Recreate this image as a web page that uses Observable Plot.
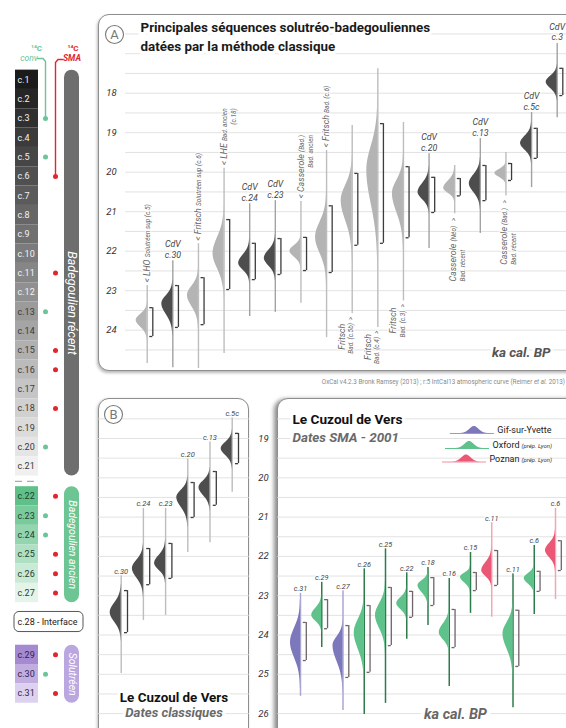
<!DOCTYPE html>
<html lang="fr">
<head>
<meta charset="utf-8">
<script src="https://cdn.jsdelivr.net/npm/d3@7"></script>
<script src="https://cdn.jsdelivr.net/npm/@observablehq/plot@0.6"></script>
<style>
html,body{margin:0;padding:0;background:#fff;}
#root{position:relative;width:566px;height:728px;overflow:hidden;background:#fff;font-family:Roboto,"Noto Sans",sans-serif;}
#root svg{position:absolute;overflow:visible;}
.frame{position:absolute;box-sizing:border-box;border:1.5px solid #8e8e8e;border-radius:11px;background:#fff;}
.cap{position:absolute;right:1px;top:378px;font-size:6.3px;color:#8a8a8a;white-space:nowrap;font-family:Roboto,sans-serif;}
</style>
</head>
<body>
<div id="root"></div>
<script>
// ---------------- DATA ----------------
// Left column: stratigraphic layers
const layers = d3.range(1, 32).map(n => "c." + n);
const layerGroup = layers.map((_, i) => i < 21 ? "recent" : i < 27 ? "ancien" : i === 27 ? "interface" : "solutreen");
const convLayers = ["c.3", "c.5", "c.13", "c.20", "c.23", "c.24", "c.30"];
const smaLayers = ["c.6", "c.11", "c.15", "c.16", "c.18", "c.22", "c.25", "c.26", "c.27", "c.29", "c.31"];
const periodKeys = ["recent", "ancien", "solutreen"];
const periodNames = ["Badegoulien récent", "Badegoulien ancien", "Solutréen"];

// Panel A: classic dates (ka cal BP)
const aTicks = [18, 19, 20, 21, 22, 23, 24];
const aTone = ["light","dark","light","light","dark","dark","light","light","light","light","light","dark","light","dark","light","dark","dark"];
const aMode   = [23.75,23.33,23.12,22.06,22.31,22.18,22.00,21.65,20.72,19.95,20.54,20.51,20.41,20.29,20.03,19.27,17.72];
const aSdUp   = [0.15,0.20,0.23,0.40,0.21,0.20,0.14,0.38,0.38,0.60,0.33,0.22,0.18,0.22,0.10,0.18,0.15];
const aSdDown = [0.17,0.27,0.28,0.38,0.17,0.19,0.15,0.40,0.50,0.85,0.48,0.18,0.12,0.22,0.10,0.17,0.16];
const aLo     = [23.43,22.87,22.67,21.20,21.80,21.68,21.65,20.85,20.03,18.77,19.86,20.13,20.16,19.83,19.78,18.89,17.37];
const aHi     = [24.16,23.93,23.86,22.97,22.72,22.59,22.49,22.54,21.85,21.80,21.66,21.02,20.60,20.72,20.21,19.65,18.06];
const aTop    = [22.87,22.24,21.81,19.90,20.80,20.72,20.74,19.45,18.82,17.38,18.74,19.53,19.83,19.15,19.50,18.49,16.74];
const aBottom = [24.84,24.95,24.97,24.59,23.65,23.55,23.32,24.19,23.58,23.93,23.26,21.93,21.05,21.55,20.60,20.39,18.62];
const aLabelKind = ["top","cdv","top","top","cdv","cdv","top","top","bottomF","bottomF","bottomF","cdv","bottomC","cdv","bottomC","cdv","cdv"];
const aLabelName = ["< LHO","CdV","< Fritsch","< LHE","CdV","CdV","< Casserole","< Fritsch","Fritsch","Fritsch","Fritsch","CdV","Casserole","CdV","Casserole","CdV","CdV"];
const aLabelDetail = ["Solutréen sup (c.5)","c.30","Solutréen sup (c.6)","Bad. ancien","c.24","c.23","(Bad.)","Bad. (c.6)","Bad. (c.5b)  >","Bad. (c.4)  >","Bad. (c.3)  >","c.20","(Néo)   >","c.13","(Bad.)   >","c.5c","c.3"];
const aLabelLine2 = ["","","","(c.18)","","","Bad. ancien","","","","","","Bad. récent","","Bad. récent","",""];

// Panel B: Le Cuzoul de Vers, classic dates
const bTicks = [19, 20, 21, 22, 23, 24, 25, 26];
const bLayer  = ["c.30","c.24","c.23","c.20","c.13","c.5c"];
const bMode   = [23.43,22.31,22.18,20.50,20.25,19.26];
const bSdUp   = [0.24,0.21,0.20,0.18,0.17,0.16];
const bSdDown = [0.24,0.24,0.17,0.25,0.20,0.17];
const bLo     = [22.87,21.80,21.67,20.12,19.84,18.87];
const bHi     = [23.94,22.72,22.56,21.01,20.70,19.64];
const bTop    = [22.49,20.78,20.78,19.51,19.08,18.47];
const bBottom = [24.98,23.63,23.50,21.90,21.65,20.37];

// Panel C: Le Cuzoul de Vers, AMS dates 2001
const cLayer  = ["c.31","c.29","c.27","c.26","c.25","c.22","c.18","c.16","c.15","c.11","c.11","c.6","c.6"];
const cLab    = ["Gif","Oxford","Gif","Oxford","Oxford","Oxford","Oxford","Oxford","Oxford","Poznan","Oxford","Oxford","Poznan"];
const cMode   = [24.19,23.50,24.27,23.94,23.50,23.20,22.74,23.94,22.53,22.36,23.97,22.56,21.85];
const cSdUp   = [0.36,0.18,0.22,0.33,0.29,0.15,0.12,0.22,0.10,0.20,0.28,0.12,0.18];
const cSdDown = [0.39,0.15,0.40,0.42,0.33,0.15,0.18,0.18,0.14,0.15,0.38,0.14,0.18];
const cLo     = [23.68,23.10,23.76,23.25,22.79,22.89,22.54,23.35,22.41,21.85,23.37,22.38,21.60];
const cHi     = [24.65,23.84,25.08,24.95,24.27,23.55,23.25,24.32,22.87,22.74,24.80,22.89,22.36];
const cTop    = [22.94,22.66,22.87,22.31,21.80,22.41,22.28,22.56,21.90,21.14,22.44,21.72,20.78];
const cBottom = [25.56,24.32,25.92,26.02,25.74,24.11,23.76,25.31,23.45,23.55,25.85,23.48,23.10];
const labKeys   = ["Gif","Oxford","Poznan"];
const labName   = ["Gif-sur-Yvette","Oxford","Poznan"];
const labDetail = ["","(prép. Lyon)","(prép. Lyon)"];

// ---------------- STYLE ----------------
const FONT = "Roboto";
const labFill = {Gif:"#7c78bb", Oxford:"#5ec28a", Poznan:"#ea5876"};
const labLine = {Gif:"#a9a6d6", Oxford:"#2e7b4c", Poznan:"#f3a7b6"};
const labLegLine = {Gif:"#9c98cf", Oxford:"#5ec28a", Poznan:"#ef8fa3"};

const cv = document.createElement("canvas").getContext("2d");
function tw(t, size, style = "italic", weight = 400) {
  cv.font = `${style} ${weight} ${size}px ${FONT}`;
  return cv.measureText(t).width;
}
const root = document.getElementById("root");
function frame(l, t, w, h, shadow) {
  const d = document.createElement("div");
  d.className = "frame";
  Object.assign(d.style, {left: l + "px", top: t + "px", width: w + "px", height: h + "px", boxShadow: shadow});
  root.appendChild(d);
}
function put(svg, l, t) { svg.style.left = l + "px"; svg.style.top = t + "px"; root.appendChild(svg); }
const baseStyle = {background: "transparent", fontFamily: FONT, overflow: "visible"};

function mk(modes, su, sd, lo, hi, top, bottom, extra) {
  return modes.map((m, i) => Object.assign({i, mode: m, su: su[i], sd: sd[i], lo: lo[i], hi: hi[i], top: top[i], bottom: bottom[i]}, extra(i)));
}

function distMarks(items, o) {
  const {kx, w, fill, line, bracket, bdx, lineWidth = 1.4} = o;
  const dens = [];
  items.forEach((d, i) => {
    const lo = d.mode - 3 * d.su, hi = d.mode + 3 * d.sd, n = 90;
    for (let k = 0; k <= n; k++) {
      const v = lo + (hi - lo) * k / n;
      const s = v < d.mode ? d.su : d.sd;
      const f = Math.exp(-0.5 * ((v - d.mode) / s) ** 2);
      dens.push({id: i, y: v, x1: i, x2: i - w * f / kx, fill: fill(d)});
    }
  });
  const bx = i => i + bdx / kx, tick = 3 / kx;
  return [
    Plot.ruleX(items, {x: (d, i) => i, y1: "top", y2: "bottom", stroke: line, strokeWidth: lineWidth}),
    Plot.areaX(dens, {y: "y", x1: "x1", x2: "x2", z: "id", fill: "fill"}),
    Plot.ruleX(items, {x: (d, i) => bx(i), y1: "lo", y2: "hi", stroke: bracket, strokeWidth: 1.3}),
    Plot.ruleY(items, {y: "lo", x1: (d, i) => bx(i) - tick, x2: (d, i) => bx(i), stroke: bracket, strokeWidth: 1.3}),
    Plot.ruleY(items, {y: "hi", x1: (d, i) => bx(i) - tick, x2: (d, i) => bx(i), stroke: bracket, strokeWidth: 1.3})
  ];
}
const mid = {textAnchor: "middle", lineAnchor: "middle"};

// ---------------- FRAMES ----------------
frame(98, 14, 520, 357, "-1px 2px 3px rgba(0,0,0,0.28)");
frame(98, 398, 151, 360, "-1px 1px 3px rgba(0,0,0,0.25)");
frame(277, 398, 330, 360, "-3px 1px 4px rgba(0,0,0,0.45)");

// ---------------- LEFT COLUMN ----------------
{
  const off = {recent: 0, ancien: 0.55, interface: 1.05, solutreen: 1.75};
  const L = layers.map((name, i) => ({name, i, group: layerGroup[i], slot: i + 1 + off[layerGroup[i]]}));
  const y0 = 79.3, ky = 19.33;
  const sy = p => 1 + (p - y0) / ky;
  const grayRamp = d3.interpolateRgb("#1b1b1b", "#f0f0f0");
  const greenRamp = d3.interpolateRgb("#5fc189", "#e4f4e9");
  const purpleRamp = d3.interpolateRgb("#a589d1", "#dcd1ee");
  const cellFill = d => d.group === "recent" ? grayRamp(d.i / 20) : d.group === "ancien" ? greenRamp((d.i - 21) / 5) : purpleRamp((d.i - 28) / 2);
  const cellText = d => d.group === "recent" ? (d.i < 12 ? "#f2f2f2" : "#3a3a3a") : d.group === "ancien" ? "#1f4030" : "#2e2550";
  const cells = L.filter(d => d.group !== "interface");
  const inter = L.filter(d => d.group === "interface");
  const periods = periodKeys.map((k, j) => {
    const s = L.filter(d => d.group === k).map(d => d.slot);
    return {key: k, name: periodNames[j], y1: d3.min(s) - 0.5, y2: d3.max(s) + 0.5};
  });
  const periodFill = {recent: "#6e6e6e", ancien: "#6cc593", solutreen: "#bba7df"};
  const conv = L.filter(d => convLayers.includes(d.name));
  const sma = L.filter(d => smaLayers.includes(d.name));
  const c3 = L.find(d => d.name === "c.3").slot, c6 = L.find(d => d.name === "c.6").slot;
  const sepY = (L[20].slot + 0.5 + L[21].slot - 0.5) / 2;
  const svg = Plot.plot({
    width: 95, height: 728, margin: 0,
    x: {domain: [0, 95], range: [0, 95], axis: null},
    y: {domain: [1, 33], range: [y0, y0 + 32 * ky], axis: null},
    color: {type: "identity"},
    style: baseStyle,
    marks: [
      Plot.rect(cells, {x1: 15, x2: 38, y1: d => d.slot - 0.5, y2: d => d.slot + 0.5, fill: cellFill}),
      Plot.text(cells, {x: 17, y: "slot", text: "name", textAnchor: "start", fontSize: 9, fill: cellText}),
      Plot.ruleY([sepY], {x1: 15, x2: 38, stroke: "#aaa", strokeWidth: 1.2, strokeDasharray: "7,5"}),
      Plot.rect(inter, {x1: 14, x2: 83, y1: d => d.slot - 0.52, y2: d => d.slot + 0.52, rx: 5, fill: "white", stroke: "#555", strokeWidth: 1}),
      Plot.text(inter, {x: 17, y: "slot", text: d => d.name + " - Interface", textAnchor: "start", fontSize: 9, fill: "#222"}),
      Plot.rect(periods, {x1: 64, x2: 79, y1: "y1", y2: "y2", rx: 7.5, fill: d => periodFill[d.key]}),
      Plot.text(periods.slice(0, 1), {x: 71.5, y: d => (d.y1 + d.y2) / 2, text: "name", rotate: 90, dy: 30, fill: "white", fontStyle: "italic", fontSize: 12.5}),
      Plot.text(periods.slice(1), {x: 71.5, y: d => (d.y1 + d.y2) / 2, text: "name", rotate: 90, fill: "white", fontStyle: "italic", fontSize: 10.5}),
      Plot.line([[37, sy(58)], [42.5, sy(58)], [45, sy(61)], [45, c3]], {x: d => d[0], y: d => d[1], stroke: "#6cc49a", strokeWidth: 1.4}),
      Plot.line([[62, sy(59)], [57.5, sy(59)], [55, sy(62)], [55, c6]], {x: d => d[0], y: d => d[1], stroke: "#e0262f", strokeWidth: 1.4}),
      Plot.dot(conv, {x: 45, y: "slot", r: 2.5, fill: "#6cc49a"}),
      Plot.dot(sma, {x: 55, y: "slot", r: 2.5, fill: "#e0262f"}),
      Plot.text(["¹⁴C"], {x: 36, y: sy(48), text: d => d, fontSize: 8, fontWeight: "bold", fill: "#6cc49a"}),
      Plot.text(["conv"], {x: 28.5, y: sy(57.5), text: d => d, fontSize: 8.5, fontStyle: "italic", fill: "#6cc49a"}),
      Plot.text(["¹⁴C"], {x: 72.5, y: sy(48), text: d => d, fontSize: 8, fontWeight: "bold", fill: "#e0262f"}),
      Plot.text(["SMA"], {x: 71.5, y: sy(58), text: d => d, fontSize: 8.5, fontStyle: "italic", fontWeight: "bold", fill: "#e0262f"})
    ]
  });
  put(svg, 0, 0);
}

// ---------------- PANEL A ----------------
{
  const kx = 25.625, ky = 39.5;
  const items = mk(aMode, aSdUp, aSdDown, aLo, aHi, aTop, aBottom, i => ({tone: aTone[i]}));
  const BIG = 8.8, SMALL = 6.5;
  const rotBig = [], rotSmall = [], cdv = [];
  items.forEach((d, i) => {
    const kind = aLabelKind[i], nm = aLabelName[i], dt = aLabelDetail[i], l2 = aLabelLine2[i];
    if (kind === "cdv") { cdv.push({x: i, y: d.top - 3 / ky, text: nm + "\n" + dt}); return; }
    if (kind === "top") {
      const y0 = d.top - 3 / ky, w1 = tw(nm + " ", BIG), w2 = tw(dt, SMALL);
      rotBig.push({x: i, y: y0, text: nm});
      rotSmall.push({x: i + 0.8 / kx, y: y0 - w1 / ky, text: dt});
      if (l2) { const upper = y0 - (w1 + w2) / ky; rotSmall.push({x: i + 9.5 / kx, y: upper + tw(l2, SMALL) / ky, text: l2}); }
    } else if (kind === "bottomF") {
      const wD = tw(dt, SMALL);
      rotSmall.push({x: i - 0.8 / kx, y: d.bottom + (3 + wD) / ky, text: dt});
      rotBig.push({x: i - 10 / kx, y: d.bottom + (3 + wD - 4) / ky, text: nm});
    } else {
      const wD = tw(dt, SMALL), wN = tw(nm + " ", BIG), lower = d.bottom + (4 + wD + wN) / ky;
      rotSmall.push({x: i - 0.6 / kx, y: d.bottom + (4 + wD) / ky, text: dt});
      rotBig.push({x: i - 1.4 / kx, y: lower, text: nm});
      rotSmall.push({x: i + 8 / kx, y: lower, text: l2});
    }
  });
  const svg = Plot.plot({
    width: 468, height: 356, marginLeft: 27, marginRight: 0, marginTop: 0, marginBottom: 0,
    x: {domain: [0, 16], range: [146.7 - 98, 556.7 - 98], axis: null},
    y: {domain: [18, 24], range: [92.7 - 14, 92.7 - 14 + 6 * ky], axis: null},
    color: {type: "identity"},
    style: baseStyle,
    marks: [
      Plot.ruleY(d3.range(16.5, 25, 0.5), {stroke: "#dadada", strokeWidth: 0.8}),
      Plot.text(aTicks, {y: d => d, frameAnchor: "left", dx: -14, text: d => String(d), ...mid, fontStyle: "italic", fontSize: 9.5, fill: "#333"}),
      ...distMarks(items, {kx, w: 11, bdx: 5.6, fill: d => d.tone === "dark" ? "#4d4d4d" : "#b4b4b4", line: d => d.tone === "dark" ? "#a2a2a2" : "#bdbdbd", bracket: "#3c3c3c"}),
      Plot.text(cdv, {x: "x", y: "y", text: "text", textAnchor: "middle", lineAnchor: "bottom", lineHeight: 1.2, fontStyle: "italic", fontSize: 8.8, fill: "#444", stroke: "white", strokeWidth: 2.5}),
      Plot.text(rotBig, {x: "x", y: "y", text: "text", rotate: -90, textAnchor: "start", fontStyle: "italic", fontSize: BIG, fill: "#666", stroke: "white", strokeWidth: 2}),
      Plot.text(rotSmall, {x: "x", y: "y", text: "text", rotate: -90, textAnchor: "start", fontStyle: "italic", fontSize: SMALL, fill: "#666", stroke: "white", strokeWidth: 2}),
      Plot.text(["Principales séquences solutréo-badegouliennes\ndatées par la méthode classique"], {frameAnchor: "top-left", dx: 15, dy: 21, text: d => d, textAnchor: "start", lineAnchor: "middle", lineHeight: 1.4, fontWeight: "bold", fontSize: 13.4, fill: "#1a1a1a", stroke: "white", strokeWidth: 7}),
      Plot.dot([0], {frameAnchor: "top-left", dx: -11, dy: 20, r: 9, stroke: "#777", strokeWidth: 1.1, fill: "white"}),
      Plot.text(["A"], {frameAnchor: "top-left", dx: -11, dy: 20.5, text: d => d, ...mid, fontSize: 13, fill: "#777"}),
      Plot.text(["ka cal. BP"], {frameAnchor: "bottom-right", dx: -16, dy: -18, text: d => d, textAnchor: "end", lineAnchor: "middle", fontStyle: "italic", fontWeight: "bold", fontSize: 13.5, fill: "#555", stroke: "white", strokeWidth: 5})
    ]
  });
  put(svg, 98, 14);
}

// caption
{
  const c = document.createElement("div");
  c.className = "cap";
  c.innerHTML = "OxCal v4.2.3 Bronk Ramsey (2013) ; r:5 IntCal13 atmospheric curve (Reimer <i>et al.</i> 2013)";
  root.appendChild(c);
}

// ---------------- PANEL B ----------------
{
  const kx = 22.2, ky = 39.3;
  const items = mk(bMode, bSdUp, bSdDown, bLo, bHi, bTop, bBottom, i => ({layer: bLayer[i]}));
  const svg = Plot.plot({
    width: 180, height: 350, marginLeft: 3, marginRight: 26, marginTop: 0, marginBottom: 0,
    x: {domain: [0, 5], range: [120.7 - 95, 231.7 - 95], axis: null},
    y: {domain: [19, 26], range: [438 - 396, 438 - 396 + 7 * ky], axis: null},
    color: {type: "identity"},
    style: baseStyle,
    marks: [
      Plot.ruleY(d3.range(18.5, 27, 0.5), {stroke: "#dadada", strokeWidth: 0.8}),
      Plot.text(bTicks, {y: d => d, frameAnchor: "right", dx: 14, text: d => String(d), ...mid, fontStyle: "italic", fontSize: 9.5, fill: "#333"}),
      ...distMarks(items, {kx, w: 11, bdx: 6.3, fill: () => "#4d4d4d", line: () => "#bdbdbd", bracket: "#3c3c3c"}),
      Plot.text(items, {x: (d, i) => i, y: d => d.top - 2 / ky, text: "layer", lineAnchor: "bottom", fontStyle: "italic", fontSize: 7.5, fill: "#444", stroke: "white", strokeWidth: 2.5}),
      Plot.dot([0], {frameAnchor: "top-left", dx: 15, dy: 18, r: 9, stroke: "#777", strokeWidth: 1.1, fill: "white"}),
      Plot.text(["B"], {frameAnchor: "top-left", dx: 15, dy: 18.5, text: d => d, ...mid, fontSize: 13, fill: "#777"}),
      Plot.text(["Le Cuzoul de Vers"], {y: 25.59, frameAnchor: "middle", text: d => d, ...mid, fontWeight: "bold", fontSize: 13.4, fill: "#111", stroke: "white", strokeWidth: 6}),
      Plot.text(["Dates classiques"], {y: 25.97, frameAnchor: "middle", text: d => d, ...mid, fontWeight: "bold", fontStyle: "italic", fontSize: 13.2, fill: "#6a6a6a", stroke: "white", strokeWidth: 6})
    ]
  });
  put(svg, 95, 396);
}

// ---------------- PANEL C ----------------
{
  const kx = 21.25, ky = 39.3;
  const items = mk(cMode, cSdUp, cSdDown, cLo, cHi, cTop, cBottom, i => ({layer: cLayer[i], lab: cLab[i]}));
  const svg = Plot.plot({
    width: 289, height: 350, margin: 0,
    x: {domain: [0, 12], range: [300 - 277, 555 - 277], axis: null},
    y: {domain: [19, 26], range: [438 - 396, 438 - 396 + 7 * ky], axis: null},
    color: {type: "identity"},
    style: baseStyle,
    marks: [
      Plot.ruleY(d3.range(18.5, 27, 0.5), {stroke: "#dadada", strokeWidth: 0.8}),
      ...distMarks(items, {kx, w: 10, bdx: 5.8, fill: d => labFill[d.lab], line: d => labLine[d.lab], bracket: "#6f6468", lineWidth: 1.5}),
      Plot.text(items, {x: (d, i) => i, y: d => d.top - 2 / ky, text: "layer", lineAnchor: "bottom", fontStyle: "italic", fontSize: 7.3, fill: "#444", stroke: "white", strokeWidth: 2.5}),
      Plot.text(["Le Cuzoul de Vers"], {frameAnchor: "top-left", dx: 15, dy: 23, text: d => d, textAnchor: "start", lineAnchor: "middle", fontWeight: "bold", fontSize: 13.6, fill: "#111", stroke: "white", strokeWidth: 6}),
      Plot.text(["Dates SMA - 2001"], {frameAnchor: "top-left", dx: 15, dy: 41, text: d => d, textAnchor: "start", lineAnchor: "middle", fontWeight: "bold", fontStyle: "italic", fontSize: 13.4, fill: "#6a6a6a", stroke: "white", strokeWidth: 6}),
      Plot.text(["ka cal. BP"], {frameAnchor: "bottom-left", dx: 178, dy: -32, text: d => d, ...mid, fontWeight: "bold", fontStyle: "italic", fontSize: 14.5, fill: "#666", stroke: "white", strokeWidth: 8})
    ]
  });
  put(svg, 277, 396);
}

// ---------------- PANEL C LEGEND ----------------
{
  const rowY = [10, 25, 38.5], end = 131;
  const dens = [], lines = [], names = [], dets = [];
  labKeys.forEach((k, r) => {
    const wN = tw(labName[r], 9, "normal"), wD = labDetail[r] ? tw(" " + labDetail[r], 6, "italic") : 0;
    const start = end - wN - wD;
    names.push({x: start, y: rowY[r], text: labName[r]});
    if (labDetail[r]) dets.push({x: start + wN + 2, y: rowY[r] + 0.6, text: labDetail[r]});
    const base = rowY[r] + 3, x2 = start - 3, x1 = x2 - 44, c = x2 - 20;
    lines.push({x1, x2, y: base, color: labLegLine[k]});
    for (let j = 0; j <= 40; j++) {
      const x = c - 14 + 28 * j / 40, f = Math.exp(-0.5 * ((x - c) / 4.6) ** 2);
      dens.push({id: r, x, y1: base, y2: base - 7 * f, fill: labFill[k]});
    }
  });
  const svg = Plot.plot({
    width: 146, height: 46, margin: 0,
    x: {domain: [0, 146], range: [0, 146], axis: null},
    y: {domain: [0, 46], range: [0, 46], axis: null},
    color: {type: "identity"},
    style: baseStyle,
    marks: [
      Plot.ruleY(lines, {y: "y", x1: "x1", x2: "x2", stroke: "color", strokeWidth: 1.1}),
      Plot.areaY(dens, {x: "x", y1: "y1", y2: "y2", z: "id", fill: "fill"}),
      Plot.text(names, {x: "x", y: "y", text: "text", textAnchor: "start", fontSize: 9, fill: "#222"}),
      Plot.text(dets, {x: "x", y: "y", text: "text", textAnchor: "start", fontSize: 6, fontStyle: "italic", fill: "#333"})
    ]
  });
  put(svg, 420, 420);
}
</script>
</body>
</html>
